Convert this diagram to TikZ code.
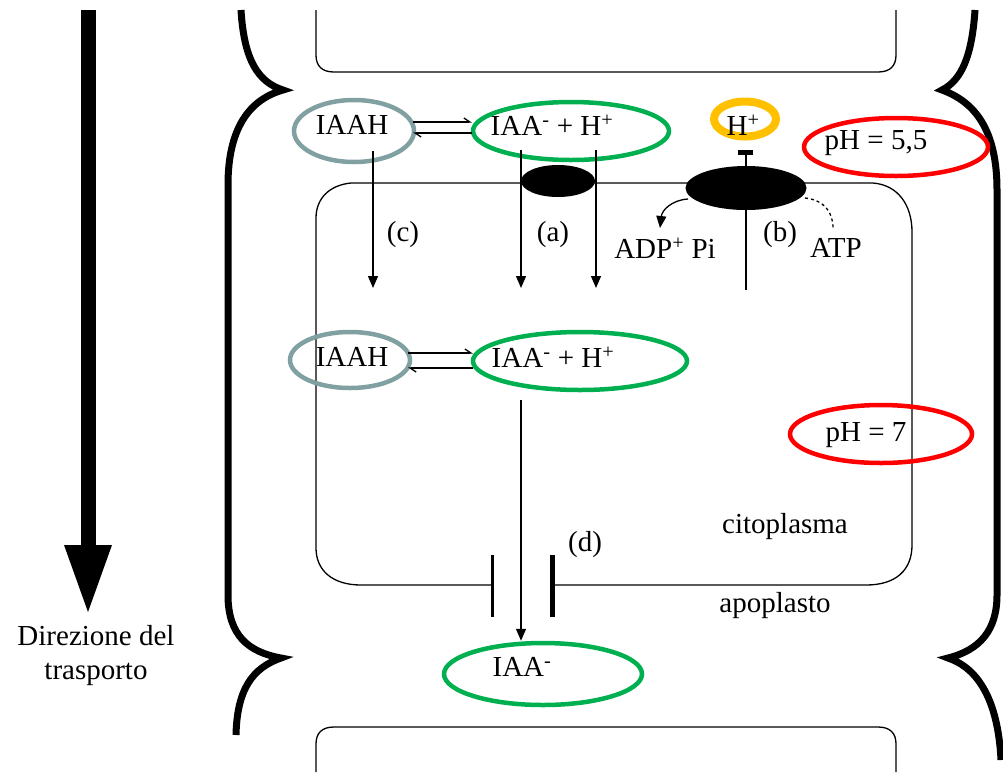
\documentclass[tikz,border=0pt]{standalone}
\usepackage{fontspec}
\setmainfont{Liberation Serif}
\usetikzlibrary{arrows.meta,shapes.geometric}
\definecolor{graycol}{RGB}{128,160,162}
\definecolor{greencol}{RGB}{0,176,80}
\definecolor{orangecol}{RGB}{255,192,0}
\definecolor{redcol}{RGB}{255,0,0}
\begin{document}
\begin{tikzpicture}[x=1pt,y=-1pt,
  txt/.style={inner sep=0pt, font=\fontsize{29}{34}\selectfont},
  thin/.style={line width=1.3pt},
  tip/.style={thin, -{Triangle[length=12pt,width=10pt]}},
  harp/.style={thin, -{Straight Barb[harpoon,length=6pt,width=8pt]}},
  ring/.style={ellipse, inner sep=0pt, line width=4.5pt},
  grayring/.style={ring, draw=graycol},
  greenring/.style={ring, draw=greencol},
  redring/.style={ring, draw=redcol},
  pump/.style={ellipse, inner sep=0pt, fill=black},
  brace/.style={line width=7pt},
  wall/.style={line width=1.3pt}
]
\useasboundingbox (0,0) rectangle (1003,772);

% ---- big transport arrow ----
\fill (81,10) rectangle (96,548);
\fill (64,545) -- (112,545) -- (88,612) -- cycle;
\node[txt] (dir1) at (96,636) {Direzione del};
\node[txt] (dir2) at (96,674) {trasporto};

% ---- cell walls (braces) ----
\draw[brace] (241,10) .. controls (244,60) and (258,82) .. (283,90)
  .. controls (248,100) and (228,130) .. (228,185) -- (228,595)
  .. controls (228,635) and (248,652) .. (281,658)
  .. controls (252,668) and (237,690) .. (236,735);
\draw[brace] (975,10) .. controls (972,55) and (962,80) .. (942,90)
  .. controls (975,102) and (997,130) .. (997,190) -- (997,595)
  .. controls (997,630) and (980,650) .. (948,658)
  .. controls (978,668) and (998,700) .. (1001,760);

% ---- neighbouring cells ----
\draw[wall] (316,10) -- (316,55) .. controls (316,66) and (322,72) .. (334,72)
  -- (878,72) .. controls (890,72) and (896,66) .. (896,55) -- (896,10);
\draw[wall] (316,772) -- (316,744) .. controls (316,733) and (322,727) .. (334,727)
  -- (878,727) .. controls (890,727) and (896,733) .. (896,744) -- (896,772);

% ---- inner cell (plasma membrane) ----
\coordinate (chL) at (492,585);
\coordinate (chR) at (552,585);
\draw[wall] (chR) -- (866,585) .. controls (896,585) and (912,570) .. (912,545)
  -- (912,232) .. controls (912,205) and (898,185) .. (873,183)
  -- (351,183) .. controls (330,185) and (316,198) .. (316,218)
  -- (316,548) .. controls (316,570) and (332,585) .. (361,585) -- (chL);
% channel (d)
\draw[line width=3pt] (492,555) -- (492,617);
\draw[line width=5pt] (552,555) -- (552,617);

% ---- membrane proteins ----
\node[pump, minimum width=74pt, minimum height=32pt] (carrier) at (558,181) {};
\node[pump, minimum width=121pt, minimum height=44pt] (atpase) at (746,188) {};
\draw[thin] (atpase.north) -- (746,152);
\fill (738,150) rectangle (753,155);

% ---- top row (apoplast) ----
\node[grayring, minimum width=120pt, minimum height=62pt] (g1) at (354,131) {};
\node[greenring, minimum width=196pt, minimum height=58pt] (gr1) at (571,131) {};
\node[txt] (t1) at (352,125) {IAAH};
\node[txt] (t2) at (552,125) {IAA\textsuperscript{-} + H\textsuperscript{+}};
\coordinate (e1a) at (413,122); \coordinate (e1b) at (472,122);
\coordinate (e1c) at (472,133); \coordinate (e1d) at (413,133);
\draw[harp] (e1a) -- (e1b);
\draw[harp] (e1c) -- (e1d);

\node[ring, draw=orangecol, line width=8pt, minimum width=62pt, minimum height=35pt] (hring) at (745,119) {};
\node[txt] (hp) at (743,125) {H\textsuperscript{+}};

\node[redring, minimum width=184pt, minimum height=58pt] (r1) at (896,147) {};
\node[txt] (ph1) at (876,143) {pH = 5,5};

% ---- vertical flows ----
\coordinate (c0) at (373,151); \coordinate (c1) at (373,288);
\coordinate (a0) at (521,150); \coordinate (a1) at (521,288);
\coordinate (b0) at (596,150); \coordinate (b1) at (596,288);
\draw[tip] (c0) -- (c1);
\draw[tip] (a0) -- (a1);
\draw[tip] (b0) -- (b1);
\node[txt] (lc) at (403,235) {(c)};
\node[txt] (la) at (553,235) {(a)};

% ---- H+ ATPase ----
\coordinate (s1) at (746,290);
\draw[thin] (atpase.south) -- (s1);
\coordinate (adp) at (660,228);
\coordinate (atp) at (833,228);
\draw[tip] (688,199) .. controls (672,200) and (662,210) .. (adp);
\draw[thin, dashed] (805,198) .. controls (824,200) and (833,212) .. (atp);
\node[txt] (ladp) at (665,248) {ADP\textsuperscript{+} Pi};
\node[txt] (lb) at (780,235) {(b)};
\node[txt] (latp) at (836,248) {ATP};

% ---- middle row (cytoplasm) ----
\node[grayring, minimum width=120pt, minimum height=56pt] (g2) at (350,360) {};
\node[greenring, minimum width=214pt, minimum height=58pt] (gr2) at (580,361) {};
\node[txt] (t3) at (352,357) {IAAH};
\node[txt] (t4) at (553,357) {IAA\textsuperscript{-} + H\textsuperscript{+}};
\coordinate (e2a) at (408,353); \coordinate (e2b) at (473,353);
\coordinate (e2c) at (473,368); \coordinate (e2d) at (408,368);
\draw[harp] (e2a) -- (e2b);
\draw[harp] (e2c) -- (e2d);

\node[redring, minimum width=182pt, minimum height=58pt] (r2) at (881,434) {};
\node[txt] (ph2) at (866,435) {pH = 7};

\node[txt] (cito) at (785,527) {citoplasma};
\node[txt] (apo) at (775,606) {apoplasto};
\node[txt] (ld) at (585,545) {(d)};

% ---- efflux through channel ----
\node[greenring, minimum width=198pt, minimum height=62pt] (gr3) at (543,674) {};
\node[txt] (t5) at (522,667) {IAA\textsuperscript{-}};
\coordinate (d0) at (521,400);
\draw[tip] (d0) -- (gr3.north -| d0);
\end{tikzpicture}
\end{document}
